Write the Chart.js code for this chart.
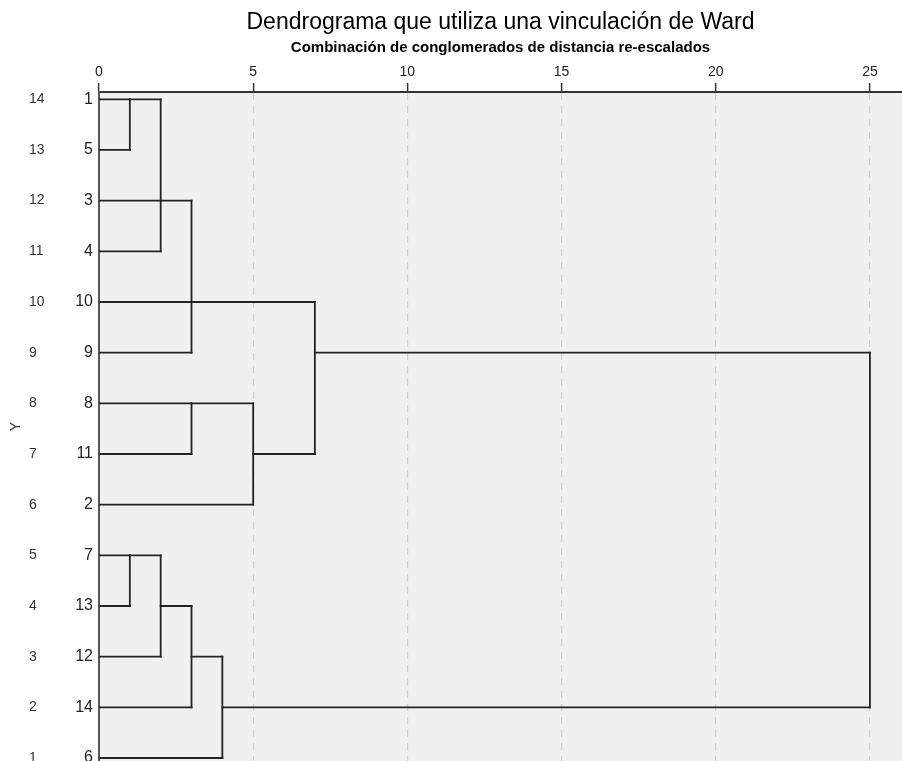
<!DOCTYPE html>
<html>
<head>
<meta charset="utf-8">
<script src="https://cdn.jsdelivr.net/npm/chart.js@4/dist/chart.umd.min.js"></script>
<style>
  html, body { margin: 0; padding: 0; background: #ffffff; }
  canvas { display: block; }
</style>
</head>
<body>
<canvas id="chart" width="902" height="761"></canvas>
<script>
// ---- Data ----
// Leaf (case) labels from top row to bottom row
const leafLabels = ['1', '5', '3', '4', '10', '9', '8', '11', '2', '7', '13', '12', '14', '6'];
// Row (Y) position of each leaf
const leafRows = [14, 13, 12, 11, 10, 9, 8, 7, 6, 5, 4, 3, 2, 1];
// Rescaled distance at which each leaf first joins a cluster
const leafJoinHeight = [1, 1, 2, 2, 3, 3, 3, 3, 5, 1, 1, 2, 3, 4];

// Merges: rows joined by the vertical link, link height, row of the outgoing line, parent merge
const mergeRowA   = [14, 12, 14, 10, 12, 8, 8, 10, 5, 5, 4, 3, 9];
const mergeRowB   = [13, 11, 12,  9, 10, 7, 6,  7, 4, 3, 2, 1, 2];
const mergeHeight = [ 1,  2,  2,  3,  3, 3, 5,  7, 1, 2, 3, 4, 25];
const mergeOutRow = [14, 12, 12, 10, 10, 8, 7,  9, 5, 4, 3, 2, null];
const mergeParent = [ 2,  2,  4,  4,  7, 6, 7, 12, 9, 10, 11, 12, null];

// Axis ticks
const distanceTicks = [0, 5, 10, 15, 20, 25];
const rowTicks = [1, 2, 3, 4, 5, 6, 7, 8, 9, 10, 11, 12, 13, 14];

const titleText = 'Dendrograma que utiliza una vinculación de Ward';
const xTitleText = 'Combinación de conglomerados de distancia re-escalados';
const yTitleText = 'Y';

// ---- View ----
const X_MIN = 0, X_MAX = 26.04;
const Y_MIN = 0.941, Y_MAX = 14.144;
const FONT = '"Liberation Sans", Arial, sans-serif';
const LINE = '#222222';

// Build segments from data
const segments = [];
leafRows.forEach((r, i) => {
  segments.push([{x: 0, y: r}, {x: leafJoinHeight[i], y: r}]);
});
mergeHeight.forEach((h, i) => {
  segments.push([{x: h, y: mergeRowA[i]}, {x: h, y: mergeRowB[i]}]);
  if (mergeParent[i] !== null) {
    const ph = mergeHeight[mergeParent[i]];
    if (ph > h) segments.push([{x: h, y: mergeOutRow[i]}, {x: ph, y: mergeOutRow[i]}]);
  }
});

const datasets = segments.map(seg => ({
  data: seg,
  showLine: true,
  borderColor: LINE,
  borderWidth: 1.8,
  borderCapStyle: 'square',
  pointRadius: 0,
  pointHoverRadius: 0,
  fill: false,
  tension: 0,
  xAxisID: 'x',
  yAxisID: 'y'
}));

const rowToLeaf = {};
leafRows.forEach((r, i) => { rowToLeaf[r] = leafLabels[i]; });

const noPad = s => { s.paddingTop = 0; s.paddingBottom = 0; s.paddingLeft = 0; s.paddingRight = 0; };

const bgPlugin = {
  id: 'bg',
  beforeDraw(chart) {
    const {ctx, chartArea: a} = chart;
    ctx.save();
    ctx.fillStyle = '#ffffff';
    ctx.fillRect(0, 0, chart.width, chart.height);
    ctx.fillStyle = '#f0f0f0';
    ctx.fillRect(a.left, a.top, a.right - a.left, a.bottom - a.top);
    ctx.restore();
  }
};

new Chart(document.getElementById('chart'), {
  type: 'scatter',
  data: { datasets },
  plugins: [bgPlugin],
  options: {
    responsive: false,
    animation: false,
    layout: { padding: 0 },
    plugins: { legend: { display: false }, tooltip: { enabled: false }, title: { display: false } },
    scales: {
      x: {
        type: 'linear', position: 'top', weight: 0,
        min: X_MIN, max: X_MAX,
        afterBuildTicks: s => { s.ticks = distanceTicks.map(v => ({value: v})); },
        ticks: { font: {family: FONT, size: 14}, color: '#222', padding: 2, maxRotation: 0, autoSkip: false },
        grid: {
          color: c => (c.tick && c.tick.value === 0) ? 'rgba(0,0,0,0)' : '#cfcfcf',
          lineWidth: 1.2,
          tickLength: 9, tickColor: '#333', tickWidth: 1.5, tickBorderDash: []
        },
        border: { color: '#333', width: 2, dash: [7, 6] },
        title: { display: true, text: xTitleText, color: '#000',
                 font: {family: FONT, size: 15, weight: 'bold'}, padding: {top: 7, bottom: 0} },
        afterFit: s => { s.height = 60; noPad(s); }
      },
      xTitle: {
        type: 'linear', position: 'top', weight: 1, min: 0, max: 1,
        ticks: { display: false },
        grid: { display: false, drawTicks: false },
        border: { display: false },
        title: { display: true, text: titleText, color: '#000',
                 font: {family: FONT, size: 23}, padding: {top: 9, bottom: 0} },
        afterFit: s => { s.height = 32; noPad(s); }
      },
      y: {
        type: 'linear', position: 'left', weight: 0,
        min: Y_MIN, max: Y_MAX,
        afterBuildTicks: s => { s.ticks = rowTicks.map(v => ({value: v})); },
        ticks: { callback: v => rowToLeaf[v] ?? '', font: {family: FONT, size: 16}, color: '#222',
                 padding: 6, autoSkip: false },
        grid: { color: 'rgba(0,0,0,0)', drawTicks: false },
        border: { color: '#555', width: 2 },
        afterFit: s => { s.width = 30; noPad(s); }
      },
      yRow: {
        type: 'linear', position: 'left', weight: 1,
        min: Y_MIN, max: Y_MAX,
        afterBuildTicks: s => { s.ticks = rowTicks.map(v => ({value: v})); },
        ticks: { crossAlign: 'far', font: {family: FONT, size: 14}, color: '#333', padding: 0, autoSkip: false },
        grid: { color: 'rgba(0,0,0,0)', drawTicks: false, drawOnChartArea: false },
        border: { display: false },
        afterFit: s => { s.width = 40; noPad(s); }
      },
      yTitle: {
        type: 'linear', position: 'left', weight: 2,
        min: Y_MIN, max: Y_MAX,
        ticks: { display: false },
        grid: { display: false, drawTicks: false },
        border: { display: false },
        title: { display: true, text: yTitleText, color: '#333',
                 font: {family: FONT, size: 14}, padding: {top: 7.5, bottom: 0} },
        afterFit: s => { s.width = 29; noPad(s); }
      }
    }
  }
});
</script>
</body>
</html>
